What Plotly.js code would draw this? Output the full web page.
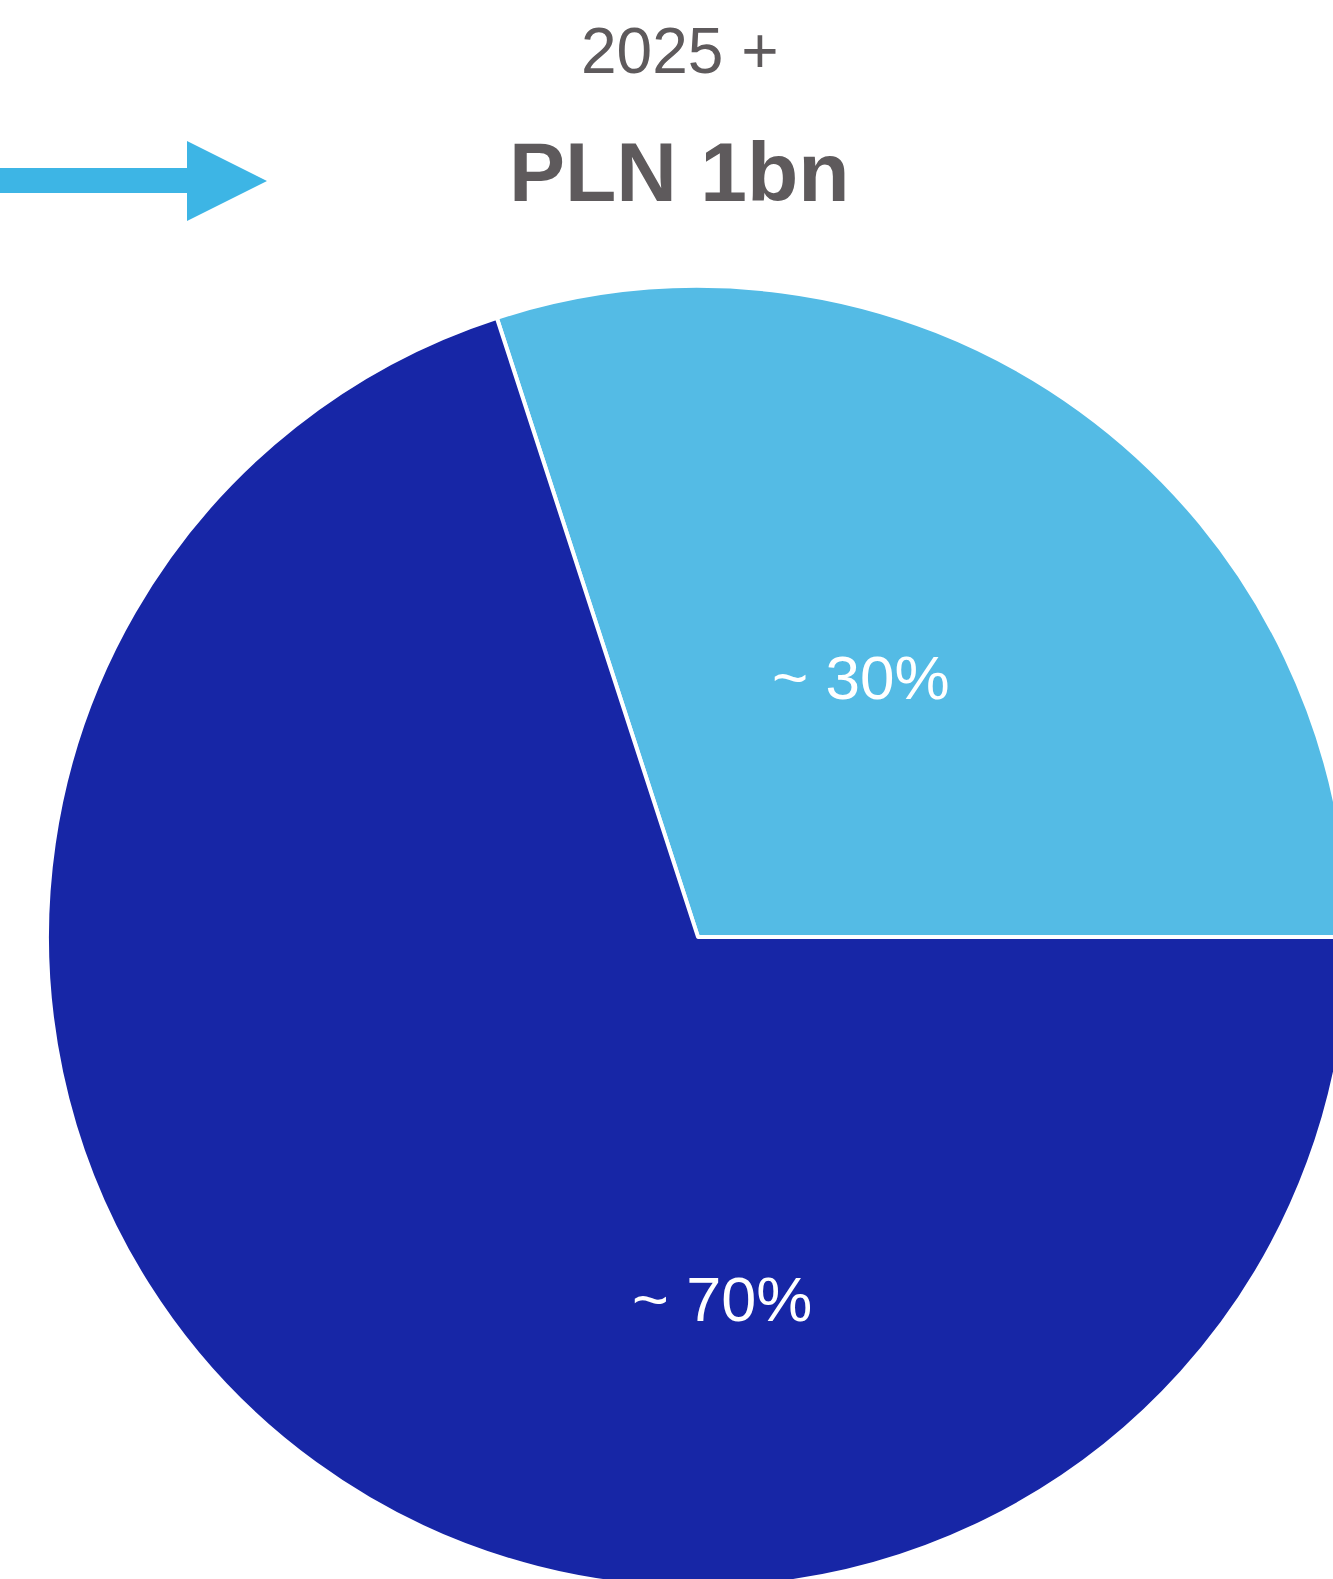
<!DOCTYPE html>
<html>
<head>
<meta charset="utf-8">
<script src="https://cdn.plot.ly/plotly-3.0.1.min.js"></script>
<style>
html,body{margin:0;padding:0;overflow:hidden;background:#fff;}
#chart{width:1396px;height:1600px;}
</style>
</head>
<body>
<div id="chart"></div>
<script>
// Data
const categories = ['Share A', 'Share B'];
const shareValues = [30, 70];
const shareLabels = ['~ 30%', '~ 70%'];
const headerPeriod = '2025 +';
const headerTotal = 'PLN 1bn';

// Layout constants (pixels)
const W = 1396, H = 1600;
const px = x => x / W;
const py = y => 1 - y / H;

const FONT = '"Liberation Sans", Arial, sans-serif';

const pieTrace = {
  type: 'pie',
  labels: categories,
  values: shareValues,
  text: shareLabels,
  sort: false,
  direction: 'clockwise',
  rotation: -18,
  textinfo: 'none',
  hoverinfo: 'none',
  marker: {
    colors: ['#54BBE5', '#1726A6'],
    line: {color: '#ffffff', width: 4}
  },
  domain: {x: [0, 1], y: [py(1588), py(286)]},
  showlegend: false
};

// label positions (pixels) for each slice label
const labelPos = [[861, 677], [722, 1299]];
const labelSizes = [62, 63];

const annotations = shareLabels.map((t, i) => ({
  text: t,
  xref: 'paper', yref: 'paper',
  x: px(labelPos[i][0]), y: py(labelPos[i][1]),
  xanchor: 'center', yanchor: 'middle',
  showarrow: false,
  font: {family: FONT, size: labelSizes[i], color: '#ffffff'}
}));

annotations.push({
  text: headerPeriod,
  xref: 'paper', yref: 'paper',
  x: px(680), y: py(51),
  xanchor: 'center', yanchor: 'middle',
  showarrow: false,
  font: {family: FONT, size: 64, color: '#5E5A5C'}
});
annotations.push({
  text: '<b>' + headerTotal + '</b>',
  xref: 'paper', yref: 'paper',
  x: px(679), y: py(172),
  xanchor: 'center', yanchor: 'middle',
  showarrow: false,
  font: {family: FONT, size: 84, color: '#5E5A5C'}
});

// arrow shape
const arrowPts = [[-5,168],[187,168],[187,141],[267,181],[187,221],[187,193],[-5,193]];
const arrowPath = 'M ' + arrowPts.map(p => px(p[0]) + ',' + py(p[1])).join(' L ') + ' Z';

const layout = {
  width: W, height: H,
  margin: {l: 0, r: 0, t: 0, b: 0},
  paper_bgcolor: '#ffffff',
  plot_bgcolor: '#ffffff',
  showlegend: false,
  annotations: annotations,
  shapes: [{
    type: 'path', xref: 'paper', yref: 'paper',
    path: arrowPath,
    fillcolor: '#3DB5E5',
    line: {width: 0}
  }]
};

Plotly.newPlot('chart', [pieTrace], layout, {displayModeBar: false, staticPlot: true});
</script>
</body>
</html>
